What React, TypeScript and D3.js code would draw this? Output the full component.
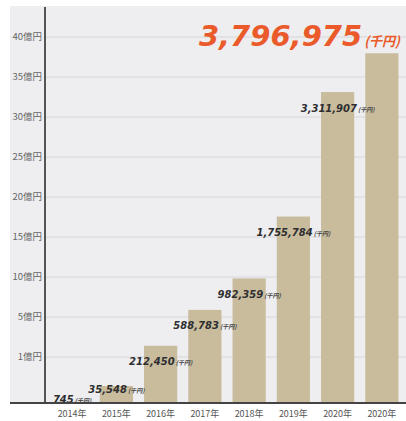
import React, { useEffect } from "react";
import * as d3 from "d3";

// values in 千円
const years = ["2014年", "2015年", "2016年", "2017年", "2018年", "2019年", "2020年", "2020年"];
const sales = [745, 35548, 212450, 588783, 982359, 1755784, 3311907, 3796975];
// y axis ticks in 億円 (uneven spacing in the original: 0, 1, 5, 10 ...)
const yTicks = [0, 1, 5, 10, 15, 20, 25, 30, 35, 40];

const W = 406;
const H = 421;

const App: React.FC = () => {
  useEffect(() => {
    document.body.style.margin = "0";
  }, []);

  const left = 45;
  const bottom = 402;
  const firstGap = 45;
  const step = 40;

  const y = d3
    .scaleLinear()
    .domain(yTicks)
    .range(yTicks.map((_, i) => (i === 0 ? bottom : bottom - firstGap - (i - 1) * step)));

  const x = d3
    .scaleBand<number>()
    .domain(d3.range(years.length))
    .range([50, 404])
    .paddingInner(0.25)
    .paddingOuter(0.125);

  const fmt = d3.format(",");
  const toOku = (v: number) => v / 100000;
  const last = sales.length - 1;
  const labelFont = "'DejaVu Sans', sans-serif";

  return (
    <svg width={W} height={H} style={{ display: "block", background: "#fff" }}>
      <rect x={10} y={6} width={W - 10} height={bottom - 6} fill="#eeeef0" />

      {/* grid + y labels */}
      {yTicks.slice(1).map((t) => (
        <g key={t}>
          <line x1={left} x2={W} y1={y(t)} y2={y(t)} stroke="#d6d6d8" strokeWidth={1} />
          <text
            x={left - 3}
            y={y(t)}
            dy="0.35em"
            textAnchor="end"
            fontSize={9.5}
            fill="#666"
            fontFamily="'Noto Sans CJK JP', sans-serif"
          >
            {t}億円
          </text>
        </g>
      ))}

      {/* bars */}
      {sales.map((v, i) => (
        <rect
          key={i}
          x={x(i)!}
          y={y(toOku(v))}
          width={x.bandwidth()}
          height={bottom - y(toOku(v))}
          fill="#c9bc9d"
        />
      ))}

      {/* value labels */}
      {sales.map((v, i) => {
        if (i === last) return null;
        const cx = x(i)! + x.bandwidth() / 2;
        const cy = Math.min(y(toOku(v)) + 14, bottom - 5 - i * 10);
        return (
          <text
            key={i}
            x={cx}
            y={cy}
            dy="0.35em"
            textAnchor="middle"
            fontFamily={labelFont}
            fontWeight="bold"
            fontStyle="italic"
            fill="#2e2e30"
          >
            <tspan fontSize={10}>{fmt(v)}</tspan>
            <tspan fontSize={6} dx={1} fontFamily="'Noto Sans CJK JP', sans-serif" fill="#444">
              (千円)
            </tspan>
          </text>
        );
      })}

      {/* headline value */}
      <text
        x={400}
        y={y(toOku(sales[last])) - 7}
        textAnchor="end"
        fontFamily={labelFont}
        fontWeight="bold"
        fontStyle="italic"
        fill="#ea5a2a"
      >
        <tspan fontSize={29}>{fmt(sales[last])}</tspan>
        <tspan fontSize={13} dx={2} fontFamily="'Noto Sans CJK JP', sans-serif" fontWeight="bold">
          (千円)
        </tspan>
      </text>

      {/* axes */}
      <line x1={left} x2={left} y1={7} y2={bottom} stroke="#555" strokeWidth={2} />
      <line x1={10} x2={W} y1={bottom + 1} y2={bottom + 1} stroke="#444" strokeWidth={2} />

      {years.map((yr, i) => (
        <text
          key={i}
          x={x(i)! + x.bandwidth() / 2}
          y={414}
          dy="0.35em"
          textAnchor="middle"
          fontSize={9}
          fill="#555"
          fontFamily="'Noto Sans CJK JP', sans-serif"
        >
          {yr}
        </text>
      ))}
    </svg>
  );
};

export default App;
